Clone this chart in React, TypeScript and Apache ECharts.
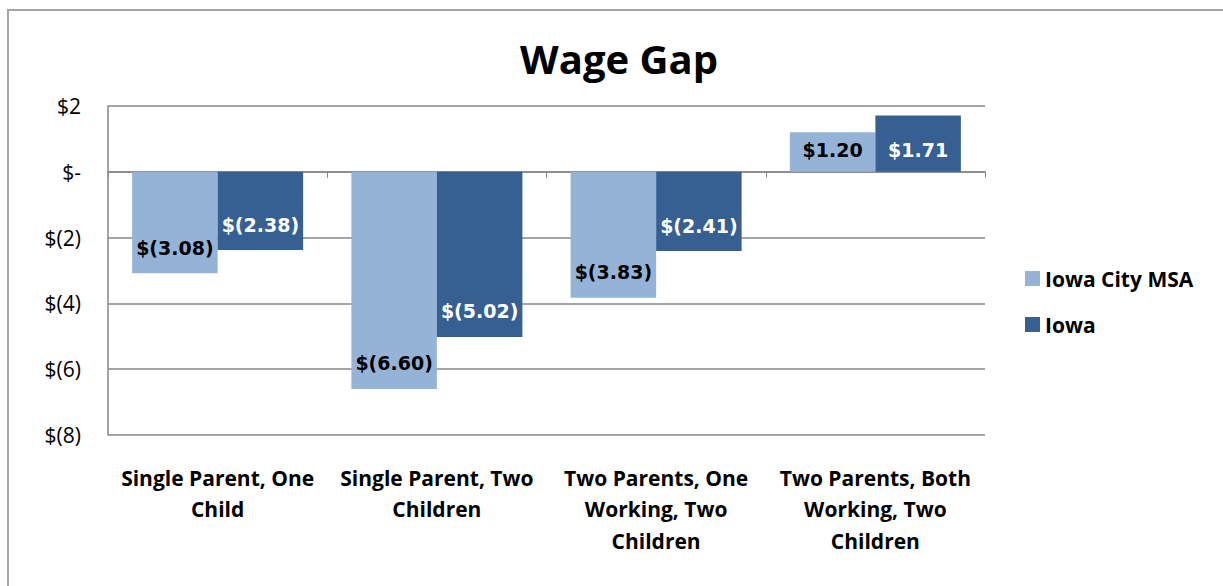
import React, { useEffect, useRef } from "react";
import * as echarts from "echarts";

const categories = [
  "Single Parent, One\nChild",
  "Single Parent, Two\nChildren",
  "Two Parents, One\nWorking, Two\nChildren",
  "Two Parents, Both\nWorking, Two\nChildren",
];
const iowaCityMSA = [-3.08, -6.6, -3.83, 1.2];
const iowa = [-2.38, -5.02, -2.41, 1.71];
const seriesNames = ["Iowa City MSA", "Iowa"];

const FONT = "'Open Sans', Lato, sans-serif";
const LABEL_FONT = "'DejaVu Sans', 'Open Sans', sans-serif";

function fmtValue(v: number): string {
  if (v < 0) return "$(" + Math.abs(v).toFixed(2) + ")";
  return "$" + v.toFixed(2);
}
function fmtAxis(v: number): string {
  if (v === 0) return "$-";
  if (v < 0) return "$(" + Math.abs(v) + ")";
  return "$" + v;
}

function buildData(values: number[]) {
  return values.map((v) => ({
    value: v,
    label: {
      position: "insideBottom",
      distance: v < 0 ? 16 : 12,
    },
  }));
}

export default function App() {
  const ref = useRef<HTMLDivElement>(null);
  useEffect(() => {
    if (!ref.current) return;
    const chart = echarts.init(ref.current, null, { renderer: "svg" });
    const gridColor = "#878787";
    chart.setOption({
      animation: false,
      backgroundColor: "#ffffff",
      title: {
        text: "Wage Gap",
        left: 614,
        textAlign: "center",
        top: 33,
        textStyle: { fontFamily: FONT, fontSize: 40, fontWeight: "bold", color: "#000" },
      },
      legend: {
        orient: "vertical",
        left: 1020,
        top: 263,
        itemWidth: 15,
        itemHeight: 15,
        itemGap: 25,
        icon: "rect",
        textStyle: { fontFamily: FONT, fontSize: 21, fontWeight: "bold", color: "#000" },
        data: seriesNames,
      },
      graphic: [
        {
          type: "rect",
          shape: { x: 8, y: 10, width: 1400, height: 800 },
          style: { fill: "none", stroke: "#a6a6a6", lineWidth: 2 },
          silent: true,
        },
      ],
      grid: { left: 108, right: 238, top: 106, bottom: 151 },
      xAxis: [
        {
          type: "category",
          data: categories,
          axisLine: { onZero: true, lineStyle: { color: gridColor, width: 1.5 } },
          axisTick: { show: true, length: 6, lineStyle: { color: gridColor } },
          axisLabel: { show: false },
        },
        {
          type: "category",
          data: categories,
          position: "bottom",
          axisLine: { show: false, onZero: false },
          axisTick: { show: false },
          axisLabel: {
            margin: 27,
            fontFamily: FONT,
            fontSize: 21,
            fontWeight: "bold",
            color: "#000",
            lineHeight: 31.5,
            interval: 0,
          },
        },
      ],
      yAxis: {
        type: "value",
        min: -8,
        max: 2,
        interval: 2,
        axisLine: { show: true, lineStyle: { color: gridColor, width: 1.5 } },
        axisTick: { show: false },
        splitLine: { lineStyle: { color: gridColor, width: 1.5 } },
        axisLabel: {
          formatter: fmtAxis,
          margin: 27,
          fontFamily: FONT,
          fontSize: 21,
          color: "#000",
        },
      },
      series: [
        {
          name: seriesNames[0],
          type: "bar",
          xAxisIndex: 0,
          data: buildData(iowaCityMSA),
          barGap: "0%",
          barCategoryGap: "22%",
          itemStyle: { color: "#95b3d7" },
          label: {
            show: true,
            formatter: (p: any) => fmtValue(p.value),
            fontFamily: LABEL_FONT,
            fontSize: 19,
            fontWeight: "bold",
            color: "#000",
          },
        },
        {
          name: seriesNames[1],
          type: "bar",
          xAxisIndex: 0,
          data: buildData(iowa),
          barGap: "0%",
          barCategoryGap: "22%",
          itemStyle: { color: "#366092" },
          label: {
            show: true,
            formatter: (p: any) => fmtValue(p.value),
            fontFamily: LABEL_FONT,
            fontSize: 19,
            fontWeight: "bold",
            color: "#fff",
          },
        },
      ],
    });
    return () => chart.dispose();
  }, []);
  return (
    <div
      ref={ref}
      style={{ position: "fixed", left: 0, top: 0, width: 1223, height: 586 }}
    />
  );
}
